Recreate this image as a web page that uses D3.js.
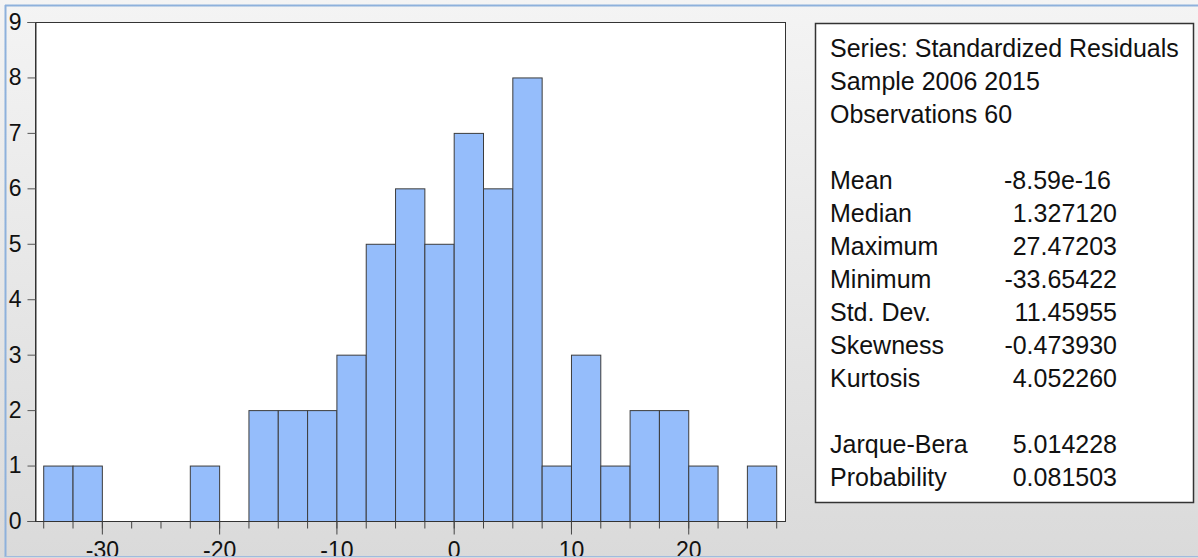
<!DOCTYPE html>
<html>
<head>
<meta charset="utf-8">
<script src="https://cdn.jsdelivr.net/npm/d3@7"></script>
<style>
  body { margin: 0; background: #fff; }
  svg { display: block; font-family: "Liberation Sans", Arial, sans-serif; }
</style>
</head>
<body>
<div id="chart"></div>
<script>
// histogram bins (width 2.5) and their counts
var binStarts = [-35, -32.5, -30, -27.5, -25, -22.5, -20, -17.5, -15, -12.5, -10, -7.5, -5, -2.5,
                 0, 2.5, 5, 7.5, 10, 12.5, 15, 17.5, 20, 22.5, 25];
var counts = [1, 1, 0, 0, 0, 1, 0, 2, 2, 2, 3, 5, 6, 5, 7, 6, 8, 1, 3, 1, 2, 2, 1, 0, 1];
var binWidth = 2.5;

var yTicks = [0, 1, 2, 3, 4, 5, 6, 7, 8, 9];
var xMajorTicks = [-30, -20, -10, 0, 10, 20];

var headerLines = ["Series: Standardized Residuals", "Sample 2006 2015", "Observations 60"];
var statNames = ["Mean", "Median", "Maximum", "Minimum", "Std. Dev.", "Skewness", "Kurtosis", "", "Jarque-Bera", "Probability"];
var statValues = ["-8.59e-16", "1.327120", "27.47203", "-33.65422", "11.45955", "-0.473930", "4.052260", "", "5.014228", "0.081503"];

var width = 1198, height = 558;
var margin = { top: 22, right: 413, bottom: 37, left: 35 };

var svg = d3.select("#chart").append("svg")
  .attr("width", width)
  .attr("height", height);

// grey window background
var defs = svg.append("defs");
var grad = defs.append("linearGradient").attr("id", "bg").attr("x1", 0).attr("y1", 0).attr("x2", 0).attr("y2", 1);
grad.append("stop").attr("offset", "0%").attr("stop-color", "#f4f4f4");
grad.append("stop").attr("offset", "100%").attr("stop-color", "#dadada");
svg.append("rect").attr("width", width).attr("height", height).attr("fill", "url(#bg)");

// blue frame lines of the window
svg.append("line").attr("x1", 5).attr("x2", width).attr("y1", 5.5).attr("y2", 5.5).attr("stroke", "#8eb1dc").attr("stroke-width", 2);
svg.append("line").attr("x1", 5.5).attr("x2", 5.5).attr("y1", 5).attr("y2", height).attr("stroke", "#8eb1dc").attr("stroke-width", 2);

var x = d3.scaleLinear()
  .domain([-35.7, 28.25])
  .range([margin.left, width - margin.right]);

var y = d3.scaleLinear()
  .domain([0, 9])
  .range([height - margin.bottom, margin.top]);

// plot area
svg.append("rect")
  .attr("x", margin.left + 0.5)
  .attr("y", margin.top + 0.5)
  .attr("width", width - margin.right - margin.left)
  .attr("height", height - margin.bottom - margin.top)
  .attr("fill", "#fff")
  .attr("stroke", "#333")
  .attr("stroke-width", 1);

// bars
svg.append("g")
  .selectAll("rect")
  .data(binStarts)
  .join("rect")
  .filter((d, i) => counts[i] > 0)
  .attr("x", (d) => x(d) + 0.5)
  .attr("y", (d) => y(counts[binStarts.indexOf(d)]) + 0.5)
  .attr("width", (d) => x(d + binWidth) - x(d))
  .attr("height", (d) => y(0) - y(counts[binStarts.indexOf(d)]))
  .attr("fill", "#95bdfb")
  .attr("stroke", "#3c3c3c")
  .attr("stroke-width", 1);

// y axis
var yAxis = svg.append("g")
  .attr("transform", `translate(${margin.left + 0.5},0)`)
  .call(d3.axisLeft(y).tickValues(yTicks).tickSize(8).tickPadding(6).tickFormat((d) => d));
yAxis.select(".domain").attr("stroke", "#333");
yAxis.selectAll(".tick line").attr("stroke", "#555");
yAxis.selectAll("text").attr("font-size", 23).attr("fill", "#111").attr("font-family", "Liberation Sans, Arial, sans-serif");

// x axis: short ticks every bin edge, long ticks at labels
var minorTicks = d3.range(binStarts.length + 1).map((i) => binStarts[0] + i * binWidth);
var xMinor = svg.append("g")
  .attr("transform", `translate(0,${y(0) + 0.5})`)
  .call(d3.axisBottom(x).tickValues(minorTicks).tickSize(7).tickFormat(""));
xMinor.select(".domain").attr("stroke", "#333").attr("d", `M${margin.left},0H${width - margin.right}`);
xMinor.selectAll(".tick line").attr("stroke", "#444");

var xMajor = svg.append("g")
  .attr("transform", `translate(0,${y(0) + 0.5})`)
  .call(d3.axisBottom(x).tickValues(xMajorTicks).tickSize(13).tickPadding(7).tickFormat((d) => d));
xMajor.select(".domain").remove();
xMajor.selectAll(".tick line").attr("stroke", "#444");
xMajor.selectAll("text").attr("font-size", 23).attr("fill", "#111").attr("font-family", "Liberation Sans, Arial, sans-serif");

// bottom blue frame line over the cut-off labels
svg.append("rect").attr("x", 0).attr("y", 557).attr("width", width).attr("height", 1).attr("fill", "#dadada");
svg.append("line").attr("x1", 5).attr("x2", width).attr("y1", 556.5).attr("y2", 556.5).attr("stroke", "#9fbbe0").attr("stroke-width", 1);

// statistics box
svg.append("rect")
  .attr("x", 815.5)
  .attr("y", 23.5)
  .attr("width", 378)
  .attr("height", 479)
  .attr("fill", "#fff")
  .attr("stroke", "#333")
  .attr("stroke-width", 1.5);

var lineH = 33;
var box = svg.append("g").attr("font-size", 25).attr("fill", "#111");

box.selectAll("text.head")
  .data(headerLines)
  .join("text")
  .attr("class", "head")
  .attr("x", 830)
  .attr("y", (d, i) => 57 + i * lineH)
  .text((d) => d);

box.selectAll("text.name")
  .data(statNames)
  .join("text")
  .attr("class", "name")
  .attr("x", 830)
  .attr("y", (d, i) => 57 + (i + 4) * lineH)
  .text((d) => d);

box.selectAll("text.val")
  .data(statValues)
  .join("text")
  .attr("class", "val")
  .attr("x", (d, i) => (i == 0 ? 1111 : 1117))
  .attr("y", (d, i) => 57 + (i + 4) * lineH)
  .attr("text-anchor", "end")
  .text((d) => d);
</script>
</body>
</html>
